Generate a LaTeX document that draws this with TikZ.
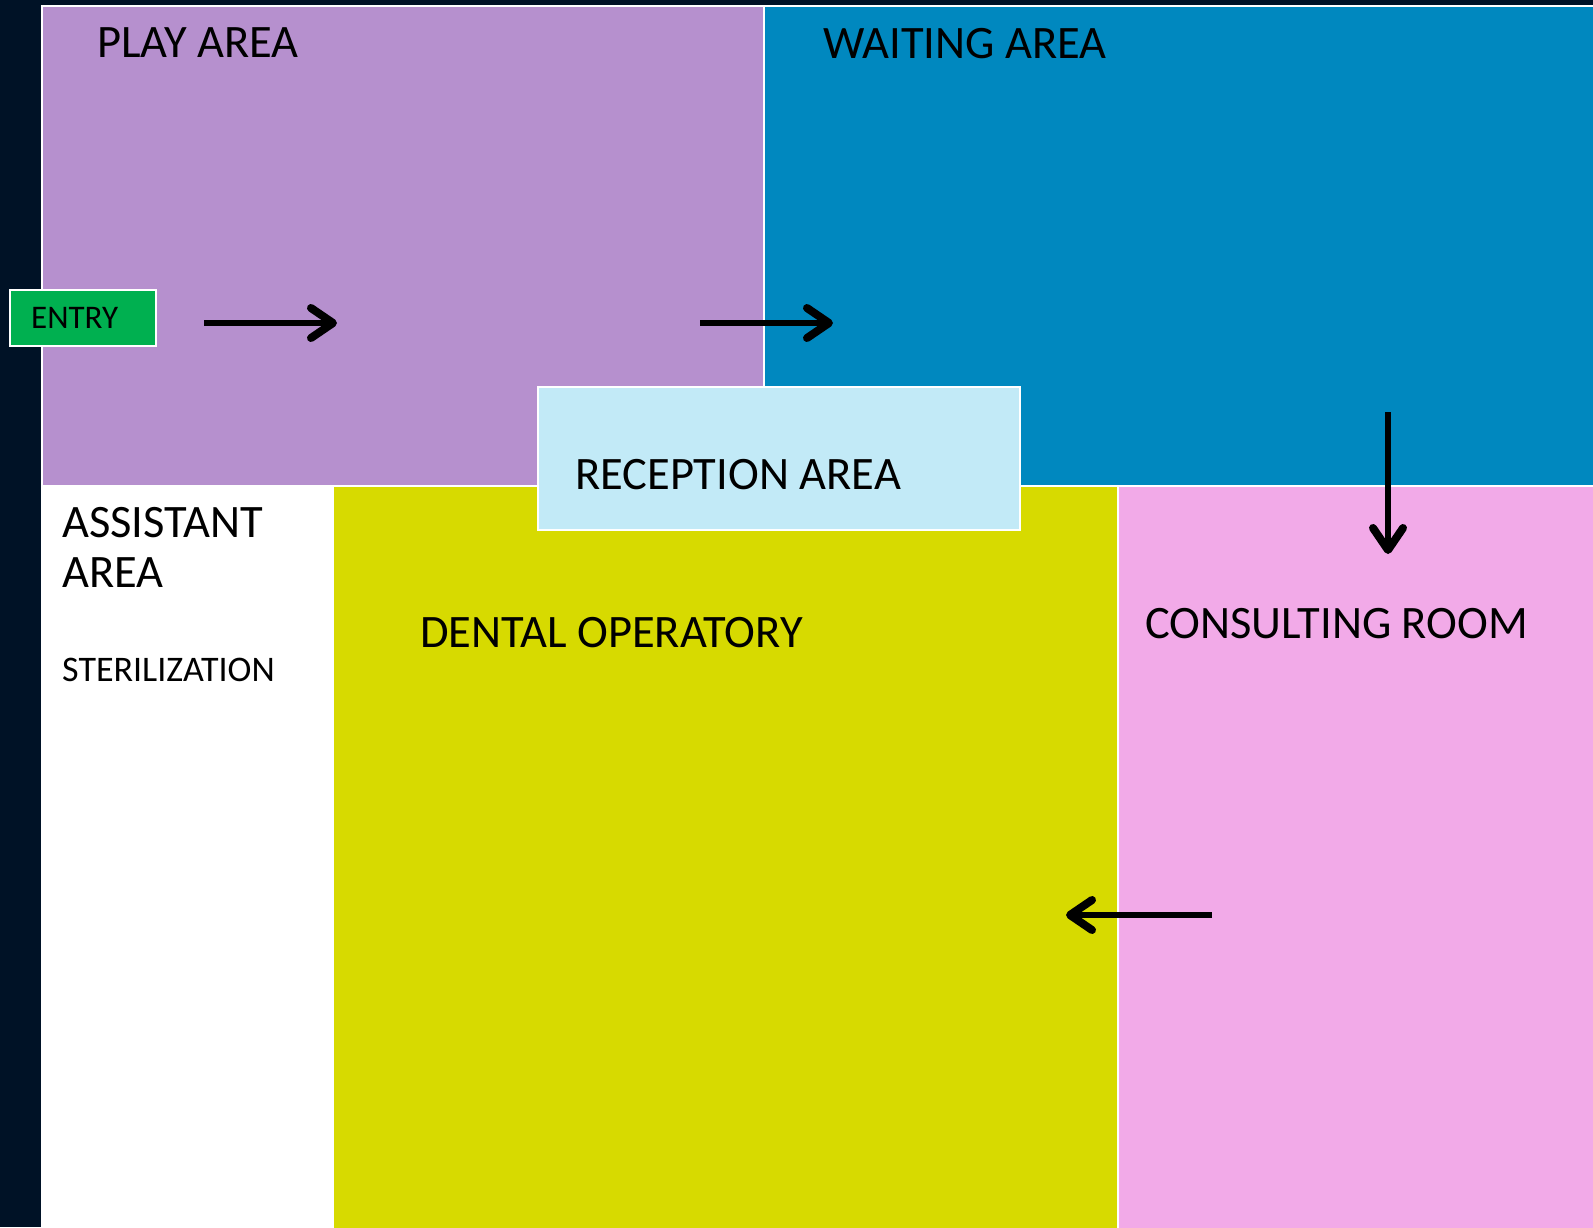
\documentclass[tikz,border=0pt]{standalone}
\usepackage{fontspec}
\setmainfont{Carlito}
\usepackage{tikz}
\usetikzlibrary{arrows.meta}

\definecolor{navy}{RGB}{0,18,38}
\definecolor{playc}{RGB}{182,144,206}
\definecolor{waitc}{RGB}{0,136,191}
\definecolor{recc}{RGB}{194,234,247}
\definecolor{dentc}{RGB}{215,218,0}
\definecolor{consc}{RGB}{242,170,232}
\definecolor{entryc}{RGB}{0,176,80}

\begin{document}
\begin{tikzpicture}[x=1pt,y=-1pt,
  room/.style={draw=white,line width=2pt},
  lbl/.style={anchor=base west,inner sep=0pt,align=left,font=\fontsize{46.5}{50}\selectfont},
  smalllbl/.style={anchor=base west,inner sep=0pt,font=\fontsize{36}{40}\selectfont},
  flow/.style={->,line width=5.5pt},
  >={Straight Barb[length=22pt,width=30pt,line width=8pt,round]}]

\useasboundingbox (0,0) rectangle (1593,1227);
\fill[navy] (0,0) rectangle (1593,1227);

% rooms
\draw[room,fill=playc] (42,6) rectangle (764,486);
\draw[room,fill=waitc] (764,6) rectangle (1600,486);
\draw[room,fill=white] (42,486) rectangle (333,1235);
\draw[room,fill=dentc] (333,486) rectangle (1118,1235);
\draw[room,fill=consc] (1118,486) rectangle (1600,1235);
\draw[room,fill=recc] (538,387) rectangle (1020,530);
\draw[room,fill=entryc] (10,290) rectangle (156,346);

% labels
\node[lbl] (play) at (97,57) {PLAY AREA};
\node[lbl] (wait) at (823,58) {WAITING AREA};
\node[lbl] (rec) at (575,489) {RECEPTION AREA};
\node[lbl] (asst) at (62,587) {ASSISTANT\\AREA};
\node[smalllbl] (ster) at (62,681) {STERILIZATION};
\node[lbl] (dent) at (420,647) {DENTAL OPERATORY};
\node[lbl] (cons) at (1145,638) {CONSULTING ROOM};
\node[anchor=base west,inner sep=0pt,font=\fontsize{33}{36}\selectfont] (entry) at (31,328) {ENTRY};

% flow
\coordinate (f1) at (204,323);
\coordinate (t1) at (337,323);
\coordinate (f2) at (700,323);
\coordinate (t2) at (833,323);
\coordinate (f3) at (1388,412);
\coordinate (t3) at (1388,554);
\coordinate (f4) at (1212,915);
\coordinate (t4) at (1066,915);
\draw[flow] (f1) -- (t1);
\draw[flow] (f2) -- (t2);
\draw[flow] (f3) -- (t3);
\draw[flow] (f4) -- (t4);

\end{tikzpicture}
\end{document}
